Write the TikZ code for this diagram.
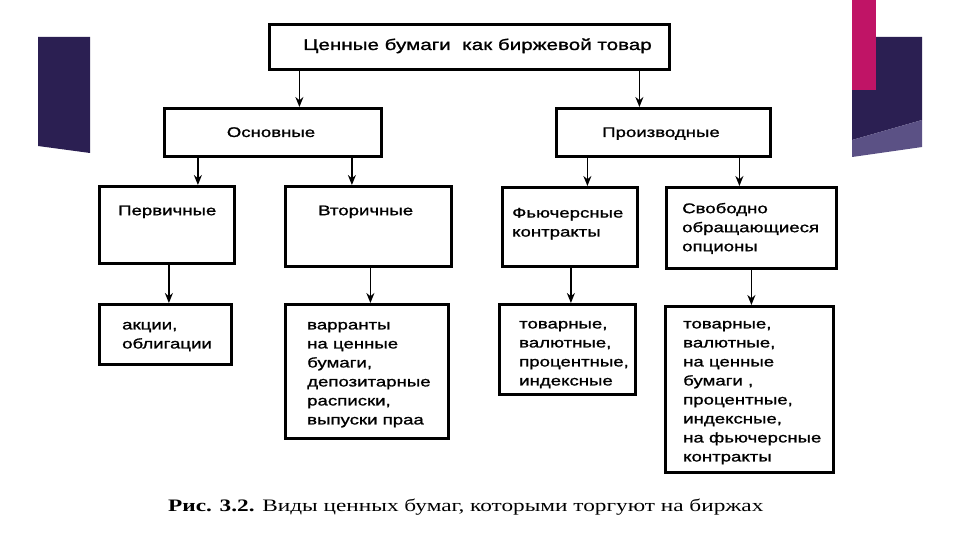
\documentclass[tikz,border=0pt]{standalone}
\usepackage{fontspec}
\setmainfont{Liberation Sans}[FakeStretch=1.33,FakeBold=1.2]
\newfontfamily\capfont{Liberation Serif}[FakeStretch=1.33]
\usetikzlibrary{arrows.meta}
\definecolor{navy}{HTML}{2B1F52}
\definecolor{lightnavy}{HTML}{5B5185}
\definecolor{magbar}{HTML}{C01466}
\tikzset{
  box/.style={draw=black, line width=2.8pt, anchor=north west, inner sep=0pt},
  txt/.style={anchor=north west, align=left, inner sep=0pt, font=\fontsize{14}{19}\selectfont, execute at begin node=\strut},
  ctxt/.style={anchor=base, inner sep=0pt, font=\fontsize{14}{19}\selectfont},
  arr/.style={line width=1.6pt, -{Stealth[length=10pt,width=8pt]}}
}
\begin{document}
\begin{tikzpicture}[x=1pt,y=-1pt]
\useasboundingbox (0,0) rectangle (960,540);
% decorative shapes
\fill[navy] (38,37) -- (90,37) -- (90,153) -- (38,146) -- cycle;
\fill[navy] (852,37) -- (922,37) -- (922,120) -- (852,140) -- cycle;
\fill[lightnavy] (852,140) -- (922,120) -- (922,147) -- (852,157) -- cycle;
\fill[magbar] (852,0) rectangle (876,90);
% boxes
\node[box, minimum width=400pt, minimum height=45pt] (top) at (268,23) {};
\node[box, minimum width=217pt, minimum height=48pt] (osn) at (163,107) {};
\node[box, minimum width=214pt, minimum height=48pt] (proizv) at (555,107) {};
\node[box, minimum width=135pt, minimum height=77pt] (perv) at (98,185) {};
\node[box, minimum width=166pt, minimum height=80pt] (vtor) at (284,185) {};
\node[box, minimum width=135pt, minimum height=79pt] (fut) at (501,186) {};
\node[box, minimum width=170pt, minimum height=81pt] (opt) at (665,186) {};
\node[box, minimum width=132pt, minimum height=60pt] (akc) at (98,303) {};
\node[box, minimum width=163pt, minimum height=134pt] (var) at (284,303) {};
\node[box, minimum width=136pt, minimum height=90pt] (tov1) at (498,303) {};
\node[box, minimum width=168pt, minimum height=166pt] (tov2) at (664,305) {};
% texts
\node[ctxt, anchor=base west, font=\fontsize{15.5}{19}\selectfont] (ttop) at (303,50) {Ценные бумаги\ \ как биржевой товар};
\node[ctxt] (tosn) at (271,137) {Основные};
\node[ctxt] (tproizv) at (661,137) {Производные};
\node[txt] (tperv) at (118,201.7) {Первичные};
\node[txt] (tvtor) at (318,201.7) {Вторичные};
\node[txt] (tfut) at (512,207.7) {Фьючерсные\\контракты};
\node[txt] (topt) at (682,202.7) {Свободно\\обращающиеся\\опционы};
\node[txt] (takc) at (122,321.7) {акции,\\облигации};
\node[txt] (tvar) at (307,321.7) {варранты\\на ценные\\бумаги,\\депозитарные\\расписки,\\выпуски праа};
\node[txt] (ttov1) at (519,320.7) {товарные,\\валютные,\\процентные,\\индексные};
\node[txt] (ttov2) at (683,320.7) {товарные,\\валютные,\\на ценные\\бумаги ,\\процентные,\\индексные,\\на фьючерсные\\контракты};
% arrows
\draw[arr] ([xshift=-170pt]top.south) -- ([xshift=-170pt]top.south |- osn.north);
\draw[arr] ([xshift=170pt]top.south) -- ([xshift=170pt]top.south |- proizv.north);
\draw[arr] ([xshift=-75pt]osn.south) -- ([xshift=-75pt]osn.south |- perv.north);
\draw[arr] ([xshift=79pt]osn.south) -- ([xshift=79pt]osn.south |- vtor.north);
\draw[arr] ([xshift=-76pt]proizv.south) -- ([xshift=-76pt]proizv.south |- fut.north);
\draw[arr] ([xshift=76pt]proizv.south) -- ([xshift=76pt]proizv.south |- opt.north);
\draw[arr] ([xshift=2pt]perv.south) -- ([xshift=2pt]perv.south |- akc.north);
\draw[arr] ([xshift=2pt]vtor.south) -- ([xshift=2pt]vtor.south |- var.north);
\draw[arr] ([xshift=1pt]fut.south) -- ([xshift=1pt]fut.south |- tov1.north);
\draw[arr] (opt.south) -- (opt.south |- tov2.north);
% caption
\node[anchor=base west, inner sep=0pt, font=\capfont\fontsize{17.5}{20}\selectfont] (cap) at (168,511) {\textbf{Рис. 3.2.} Виды ценных бумаг, которыми торгуют на биржах};
\end{tikzpicture}
\end{document}
